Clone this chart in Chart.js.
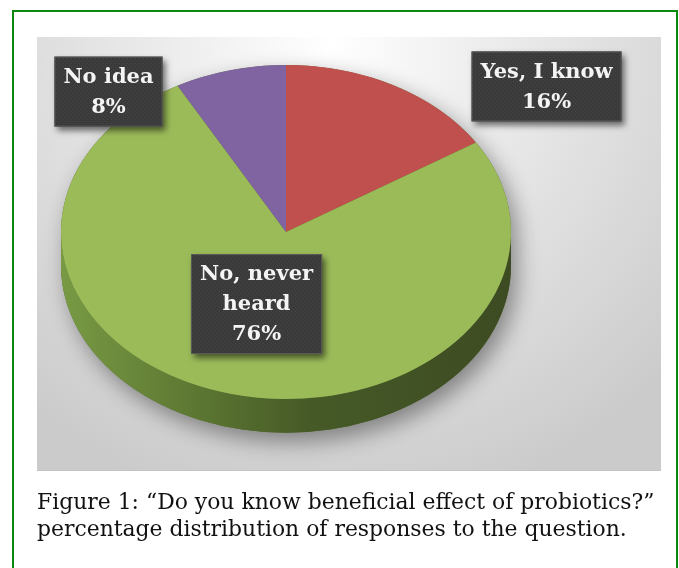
<!DOCTYPE html>
<html lang="en">
<head>
<meta charset="UTF-8">
<title>Beneficial effect of probiotics</title>
<script src="https://cdn.jsdelivr.net/npm/chart.js"></script>
<style>
  body { margin: 0; background: #fff; }
  #wrap { position: relative; width: 679px; height: 568px; overflow: hidden; }
  #frame { position: absolute; left: 12px; top: 10px; width: 666px; height: 600px;
           border: 2px solid #0c880c; box-sizing: border-box; }
  #pie { position: absolute; left: 0; top: 0; }
  #caption { position: absolute; left: 37px; top: 488px; font-family: "DejaVu Serif", serif;
             font-size: 21.9px; line-height: 27px; color: #111; white-space: nowrap; }
</style>
</head>
<body>
<div id="wrap">
  <div id="frame"></div>
  <canvas id="pie" width="679" height="568"></canvas>
  <div id="caption">Figure 1: “Do you know beneficial effect of probiotics?”<br>percentage distribution of responses to the question.</div>
</div>
<script>
// survey answers, in percent
var categories = ['Yes, I know', 'No, never\nheard', 'No idea'];
var shares = [16, 76, 8];
var sliceColors = ['#c0504d', '#9bbb59', '#8064a2'];
// where each label box sits, relative to the pie centre, in radius units
var labelOffsets = [[1.158, -0.647], [-0.131, 0.32], [-0.789, -0.624]];

var TILT = 0.742;    // vertical squash of the pie face
var DEPTH = 0.15;    // height of the side wall, in radius units
var panel = { x: 37, y: 37, w: 624, h: 434 };

// dotted dark fill for the label boxes
function dotPattern(ctx) {
    var c = document.createElement('canvas');
    c.width = 4; c.height = 4;
    var g = c.getContext('2d');
    g.fillStyle = '#3a3a3a';
    g.fillRect(0, 0, 4, 4);
    g.fillStyle = '#474747';
    g.fillRect(1, 1, 1, 1);
    g.fillRect(3, 3, 1, 1);
    return ctx.createPattern(c, 'repeat');
}

var pie3d = {
    id: 'pie3d',
    beforeDraw: function (chart) {
        var ctx = chart.ctx;
        var grad = ctx.createRadialGradient(330, 45, 0, 330, 45, 470);
        grad.addColorStop(0, '#ffffff');
        grad.addColorStop(0.35, '#ececec');
        grad.addColorStop(1, '#cbcbcb');
        ctx.save();
        ctx.fillStyle = grad;
        ctx.fillRect(panel.x, panel.y, panel.w, panel.h);
        ctx.fillStyle = '#c4c4c4';
        ctx.fillRect(panel.x, panel.y + panel.h - 1, panel.w, 1);
        ctx.restore();
    },
    beforeDatasetsDraw: function (chart) {
        var ctx = chart.ctx;
        var arcs = chart.getDatasetMeta(0).data;
        var cx = arcs[0].x, cy = arcs[0].y, r = arcs[0].outerRadius;
        var rx = r, ry = r * TILT, d = r * DEPTH;

        // soft drop shadow under the whole disc
        ctx.save();
        ctx.shadowColor = 'rgba(0,0,0,0.4)';
        ctx.shadowBlur = 22;
        ctx.shadowOffsetX = 6;
        ctx.shadowOffsetY = 9;
        ctx.fillStyle = '#556b2f';
        ctx.beginPath();
        ctx.ellipse(cx, cy, rx, ry, 0, Math.PI, 2 * Math.PI);
        ctx.ellipse(cx, cy + d, rx, ry, 0, 0, Math.PI);
        ctx.closePath();
        ctx.fill();
        ctx.restore();

        // side wall for the front half of each slice
        var side = ctx.createLinearGradient(cx - rx, 0, cx + rx, 0);
        side.addColorStop(0, '#789a44');
        side.addColorStop(0.3, '#5c7732');
        side.addColorStop(0.55, '#465a27');
        side.addColorStop(1, '#3d4b22');
        arcs.forEach(function (arc) {
            var s = arc.startAngle, e = arc.endAngle;
            for (var k = -1; k <= 1; k++) {
                var lo = Math.max(s, k * 2 * Math.PI), hi = Math.min(e, k * 2 * Math.PI + Math.PI);
                if (hi <= lo) continue;
                ctx.save();
                ctx.fillStyle = side;
                ctx.beginPath();
                ctx.ellipse(cx, cy, rx, ry, 0, lo, hi);
                ctx.ellipse(cx, cy + d, rx, ry, 0, hi, lo, true);
                ctx.closePath();
                ctx.fill();
                ctx.restore();
            }
        });

        // squash the face the library draws next
        ctx.save();
        ctx.translate(cx, cy);
        ctx.scale(1, TILT);
        ctx.translate(-cx, -cy);
    },
    afterDatasetsDraw: function (chart) {
        var ctx = chart.ctx;
        ctx.restore();

        var arcs = chart.getDatasetMeta(0).data;
        var labels = chart.data.labels;
        var values = chart.data.datasets[0].data;
        var fill = dotPattern(ctx);
        ctx.save();
        ctx.font = 'bold 21px "DejaVu Serif"';
        ctx.textAlign = 'center';
        ctx.textBaseline = 'middle';
        arcs.forEach(function (arc, i) {
            var lines = labels[i].split('\n').concat([values[i] + '%']);
            var w = 0;
            lines.forEach(function (t) { w = Math.max(w, ctx.measureText(t).width); });
            var lineH = 30;
            var bw = w + 18, bh = lines.length * lineH + 10;
            var bx = arc.x + labelOffsets[i][0] * arc.outerRadius;
            var by = arc.y + labelOffsets[i][1] * arc.outerRadius;

            ctx.save();
            ctx.shadowColor = 'rgba(0,0,0,0.55)';
            ctx.shadowBlur = 6;
            ctx.shadowOffsetX = 3;
            ctx.shadowOffsetY = 4;
            ctx.fillStyle = fill;
            ctx.fillRect(bx - bw / 2, by - bh / 2, bw, bh);
            ctx.restore();
            ctx.strokeStyle = '#5a5a5a';
            ctx.lineWidth = 1;
            ctx.strokeRect(bx - bw / 2 + 0.5, by - bh / 2 + 0.5, bw - 1, bh - 1);

            ctx.fillStyle = '#f4f4f4';
            lines.forEach(function (t, j) {
                ctx.fillText(t, bx, by - bh / 2 + 5 + lineH * (j + 0.5) + 1);
            });
        });
        ctx.restore();
    }
};

var chart = new Chart(document.getElementById('pie').getContext('2d'), {
    type: 'pie',
    data: {
        labels: categories,
        datasets: [{
            data: shares,
            backgroundColor: sliceColors,
            borderWidth: 0,
            hoverOffset: 0
        }]
    },
    options: {
        responsive: false,
        animation: false,
        events: [],
        layout: { padding: { left: 61, right: 168, top: 7, bottom: 111 } },
        plugins: {
            legend: { display: false },
            tooltip: { enabled: false }
        }
    },
    plugins: [pie3d]
});
</script>
</body>
</html>
